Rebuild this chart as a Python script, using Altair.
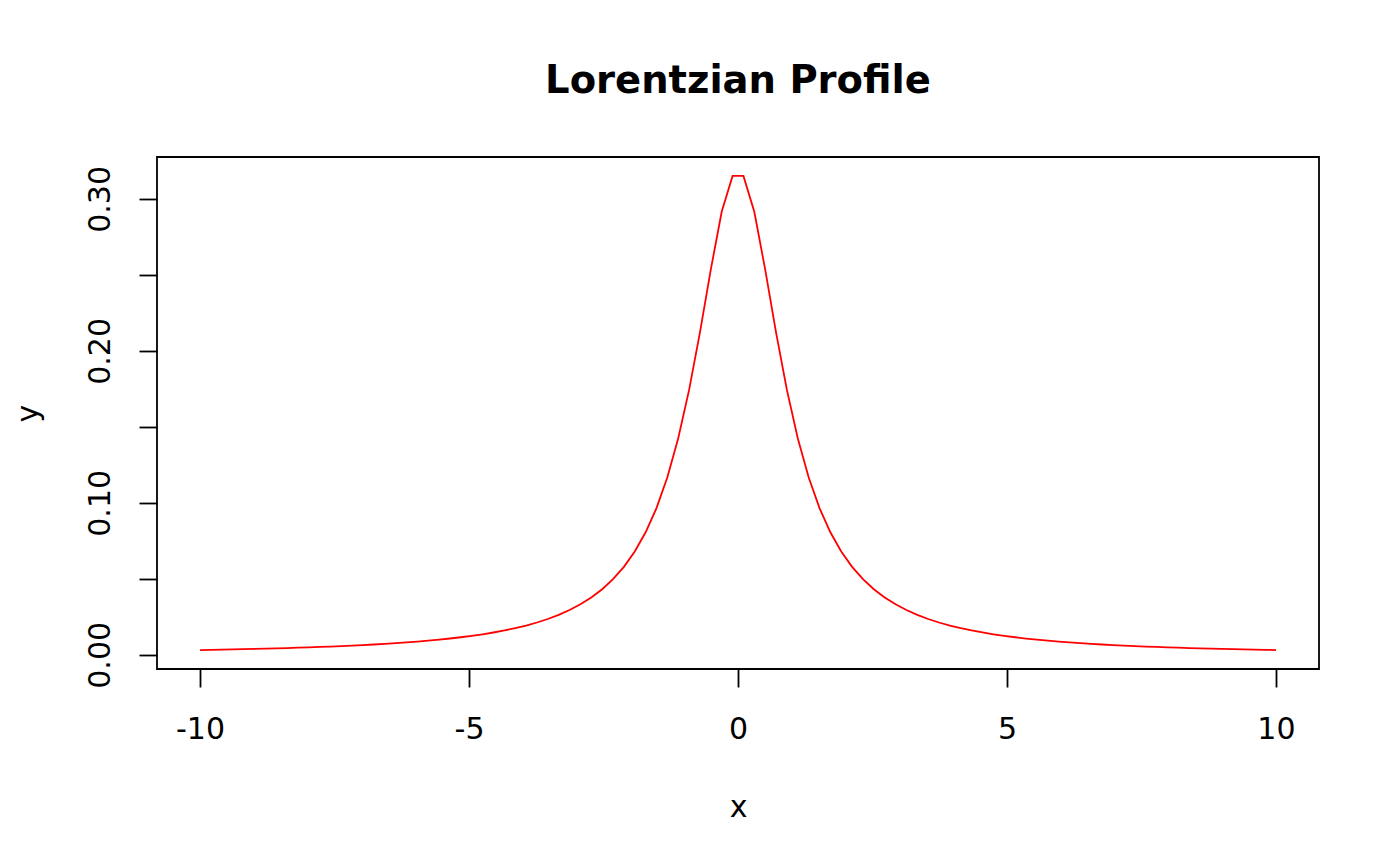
import altair as alt
import pandas as pd

x_left = [-10.000, -9.798, -9.596, -9.394, -9.192, -8.990, -8.788, -8.586, -8.384, -8.182,
          -7.980, -7.778, -7.576, -7.374, -7.172, -6.970, -6.768, -6.566, -6.364, -6.162,
          -5.960, -5.758, -5.556, -5.354, -5.152, -4.949, -4.747, -4.545, -4.343, -4.141,
          -3.939, -3.737, -3.535, -3.333, -3.131, -2.929, -2.727, -2.525, -2.323, -2.121,
          -1.919, -1.717, -1.515, -1.313, -1.111, -0.909, -0.707, -0.505, -0.303, -0.101]
x_right = [0.101, 0.303, 0.505, 0.707, 0.909, 1.111, 1.313, 1.515, 1.717, 1.919,
           2.121, 2.323, 2.525, 2.727, 2.929, 3.131, 3.333, 3.535, 3.737, 3.939,
           4.141, 4.343, 4.545, 4.747, 4.949, 5.152, 5.354, 5.556, 5.758, 5.960,
           6.162, 6.364, 6.566, 6.768, 6.970, 7.172, 7.374, 7.576, 7.778, 7.980,
           8.182, 8.384, 8.586, 8.788, 8.990, 9.192, 9.394, 9.596, 9.798, 10.000]
y_left = [0.003152, 0.003282, 0.003420, 0.003567, 0.003723, 0.003890, 0.004069, 0.004260, 0.004465, 0.004685,
          0.004921, 0.005176, 0.005451, 0.005748, 0.006070, 0.006420, 0.006801, 0.007216, 0.007670, 0.008168,
          0.008716, 0.009320, 0.009988, 0.010730, 0.011557, 0.012486, 0.013526, 0.014698, 0.016026, 0.017540,
          0.019273, 0.021269, 0.023584, 0.026287, 0.029465, 0.033230, 0.037732, 0.043155, 0.049759, 0.057885,
          0.067971, 0.080626, 0.096575, 0.116854, 0.142484, 0.174321, 0.212207, 0.253633, 0.291546, 0.315096]
y_right = [0.315096, 0.291546, 0.253633, 0.212207, 0.174321, 0.142484, 0.116854, 0.096575, 0.080626, 0.067971,
           0.057885, 0.049759, 0.043155, 0.037732, 0.033230, 0.029465, 0.026287, 0.023584, 0.021269, 0.019273,
           0.017540, 0.016026, 0.014698, 0.013526, 0.012486, 0.011557, 0.010730, 0.009988, 0.009320, 0.008716,
           0.008168, 0.007670, 0.007216, 0.006801, 0.006420, 0.006070, 0.005748, 0.005451, 0.005176, 0.004921,
           0.004685, 0.004465, 0.004260, 0.004069, 0.003890, 0.003723, 0.003567, 0.003420, 0.003282, 0.003152]

x_ticks = [-10, -5, 0, 5, 10]
y_ticks = [0.0, 0.05, 0.10, 0.15, 0.20, 0.25, 0.30]

df = pd.DataFrame({"x": x_left + x_right, "y": y_left + y_right})

FONT = "DejaVu Sans"

chart = alt.Chart(df).mark_line(color="#ff0000", strokeWidth=1.8).encode(
    x=alt.X("x:Q",
            scale=alt.Scale(domain=[-10.8, 10.8], nice=False, zero=False),
            axis=alt.Axis(values=x_ticks, title="x", grid=False, domain=False,
                          tickSize=18, tickWidth=1.8, tickColor="black",
                          labelExpr="'' + datum.value",
                          labelFontSize=30, labelColor="black", labelPadding=27,
                          labelFont=FONT, titleFont=FONT, titleFontSize=30,
                          titleFontWeight="normal", titleColor="black", titlePadding=48,
                          labelFlush=False, labelOverlap=False)),
    y=alt.Y("y:Q",
            scale=alt.Scale(domain=[-0.009326, 0.327574], nice=False, zero=False),
            axis=alt.Axis(values=y_ticks, title="y", grid=False, domain=False,
                          tickSize=18, tickWidth=1.8, tickColor="black",
                          labelExpr="(round(datum.value*100) % 10 == 0) ? format(datum.value, '.2f') : ''",
                          labelAngle=270, labelAlign="center", labelBaseline="bottom",
                          labelFontSize=30, labelColor="black", labelPadding=24,
                          labelFont=FONT, titleFont=FONT, titleFontSize=30,
                          titleFontWeight="normal", titleColor="black", titlePadding=42,
                          labelFlush=False, labelOverlap=False)),
).properties(
    width=1162,
    height=512,
    title=alt.TitleParams("Lorentzian Profile", font=FONT, fontSize=38.5, fontWeight="bold",
                          color="black", anchor="middle", offset=56),
    autosize=alt.AutoSizeParams(type="none"),
    padding={"left": 149, "top": 149, "right": 73, "bottom": 189},
).configure(
    background="white",
    view=alt.ViewConfig(stroke="black", strokeWidth=1.8),
)

chart.save("out.html", embed_options={"renderer": "svg", "actions": False})
